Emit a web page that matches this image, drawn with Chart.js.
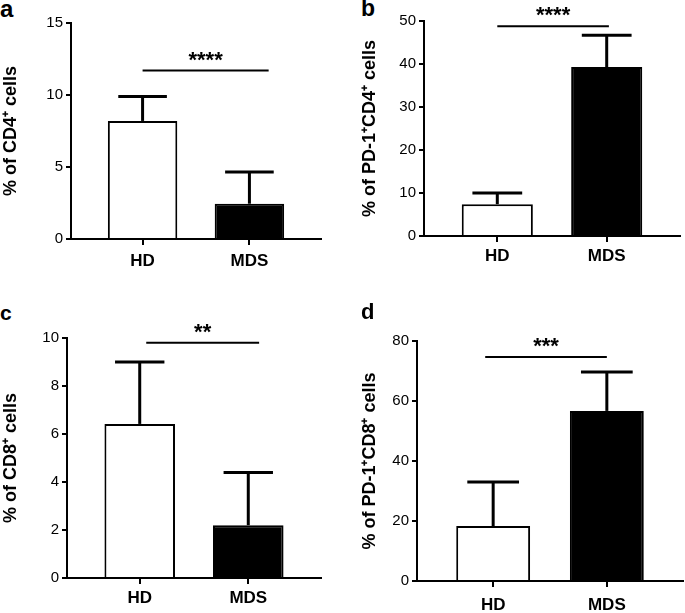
<!DOCTYPE html>
<html>
<head>
<meta charset="utf-8">
<script src="https://cdn.jsdelivr.net/npm/chart.js@4"></script>
<style>
  body { margin: 0; background: #fff; }
  #fig { position: relative; width: 685px; height: 613px; overflow: hidden; }
  #fig canvas { position: absolute; }
  .tag { position: absolute; font-family: "Liberation Sans", Arial, sans-serif; font-weight: bold; line-height: 1; color: #000; }
</style>
</head>
<body>
<div id="fig"></div>
<script>
// values (mean + SD, percent of cells)
const groups = ['HD', 'MDS'];
const cd4Mean = [8.2, 2.45];
const cd4Sd = [1.7, 2.2];
const pd1Cd4Mean = [7.4, 39.3];
const pd1Cd4Sd = [2.6, 7.4];
const cd8Mean = [6.42, 2.2];
const cd8Sd = [2.58, 2.2];
const pd1Cd8Mean = [18.3, 56.7];
const pd1Cd8Sd = [14.7, 13.0];
const sigLevel = [11.7, 48.8, 9.8, 74.7];
const sigStars = ['****', '****', '**', '***'];
const yMax = [15, 50, 10, 80];
const yStep = [5, 10, 2, 20];

const FONT = '"Liberation Sans", Arial, sans-serif';

const panels = [
  { tag: 'a', title: '% of CD4\u207A cells', mean: cd4Mean, sd: cd4Sd,
    left: 0, top: 0, w: 340, h: 300, padL: 0, yW: 71, padT: 23, padR: 19, xH: 61, labelPad: 6,
    span: [0, 1.18], tagX: 0, tagY: -3, tagSize: 24 },
  { tag: 'b', title: '% of PD-1\u207ACD4\u207A cells', mean: pd1Cd4Mean, sd: pd1Cd4Sd,
    left: 340, top: 0, w: 345, h: 300, padL: 19, yW: 65, padT: 21, padR: 5, xH: 64, labelPad: 4,
    span: [0, 1.02], tagX: 361, tagY: -3, tagSize: 23 },
  { tag: 'c', title: '% of CD8\u207A cells', mean: cd8Mean, sd: cd8Sd,
    left: 0, top: 300, w: 340, h: 313, padL: 0, yW: 67, padT: 38, padR: 19, xH: 35, labelPad: 4,
    span: [0.06, 1.1], tagX: 0, tagY: 302, tagSize: 21 },
  { tag: 'd', title: '% of PD-1\u207ACD8\u207A cells', mean: pd1Cd8Mean, sd: pd1Cd8Sd,
    left: 340, top: 300, w: 345, h: 313, padL: 19, yW: 58, padT: 41, padR: 2, xH: 32, labelPad: 8,
    span: [-0.07, 1.0], tagX: 361, tagY: 301, tagSize: 22 }
];

// SD whiskers (upper only) and the significance bar
const errorBars = {
  id: 'errorBars',
  afterDatasetsDraw(chart, args, opts) {
    const ctx = chart.ctx;
    const x = chart.scales.x, y = chart.scales.y;
    const bars = chart.getDatasetMeta(0).data;
    ctx.save();
    ctx.strokeStyle = '#000';
    ctx.lineCap = 'butt';
    bars.forEach((bar, i) => {
      const top = y.getPixelForValue(opts.mean[i] + opts.sd[i]);
      const half = bar.width * 0.35;
      ctx.lineWidth = 3;
      ctx.beginPath();
      ctx.moveTo(bar.x, bar.y);
      ctx.lineTo(bar.x, top);
      ctx.stroke();
      ctx.beginPath();
      ctx.moveTo(bar.x - half, top);
      ctx.lineTo(bar.x + half, top);
      ctx.stroke();
    });
    const sy = y.getPixelForValue(opts.level);
    const x0 = x.getPixelForValue(opts.span[0]);
    const x1 = x.getPixelForValue(opts.span[1]);
    ctx.lineWidth = 2;
    ctx.beginPath();
    ctx.moveTo(x0, sy);
    ctx.lineTo(x1, sy);
    ctx.stroke();
    ctx.fillStyle = '#000';
    ctx.font = 'bold 22px ' + FONT;
    ctx.textAlign = 'center';
    ctx.textBaseline = 'alphabetic';
    ctx.fillText(opts.stars, (x0 + x1) / 2, sy - 4);
    ctx.restore();
  }
};

const fig = document.getElementById('fig');

panels.forEach((p, k) => {
  const tag = document.createElement('div');
  tag.className = 'tag';
  tag.textContent = p.tag;
  tag.style.left = p.tagX + 'px';
  tag.style.top = p.tagY + 'px';
  tag.style.fontSize = p.tagSize + 'px';
  fig.appendChild(tag);

  const canvas = document.createElement('canvas');
  canvas.width = p.w;
  canvas.height = p.h;
  canvas.style.left = p.left + 'px';
  canvas.style.top = p.top + 'px';
  fig.appendChild(canvas);

  new Chart(canvas.getContext('2d'), {
    type: 'bar',
    data: {
      datasets: [{
        data: p.mean.map((v, i) => ({ x: i, y: v })),
        backgroundColor: ['#ffffff', '#000000'],
        borderColor: '#000',
        borderWidth: 2,
        categoryPercentage: 1,
        barPercentage: 0.65
      }]
    },
    options: {
      responsive: false,
      animation: false,
      layout: { padding: { left: p.padL, top: p.padT, right: p.padR, bottom: 0 } },
      plugins: {
        legend: { display: false },
        tooltip: { enabled: false },
        errorBars: { mean: p.mean, sd: p.sd, level: sigLevel[k], stars: sigStars[k], span: p.span }
      },
      scales: {
        x: {
          type: 'linear',
          min: -0.67,
          max: 1.67,
          offset: false,
          afterBuildTicks: s => { s.ticks = groups.map((g, i) => ({ value: i })); },
          afterFit: s => { s.height = p.xH; },
          ticks: {
            callback: v => groups[v],
            autoSkip: false,
            maxRotation: 0,
            padding: p.labelPad,
            color: '#000',
            font: { family: FONT, size: 17, weight: 'bold' }
          },
          grid: { offset: false, drawOnChartArea: false, color: '#000', lineWidth: 2, tickLength: 6 },
          border: { color: '#000', width: 2 }
        },
        y: {
          min: 0,
          max: yMax[k],
          afterFit: s => { s.width = p.yW; },
          ticks: {
            stepSize: yStep[k],
            padding: 3,
            color: '#000',
            font: { family: FONT, size: 15 }
          },
          grid: { drawOnChartArea: false, color: '#000', lineWidth: 2, tickLength: 5 },
          border: { color: '#000', width: 2 },
          title: {
            display: true,
            text: p.title,
            color: '#000',
            padding: 0,
            font: { family: FONT, size: 18, weight: 'bold' }
          }
        }
      }
    },
    plugins: [errorBars]
  });
});
</script>
</body>
</html>
